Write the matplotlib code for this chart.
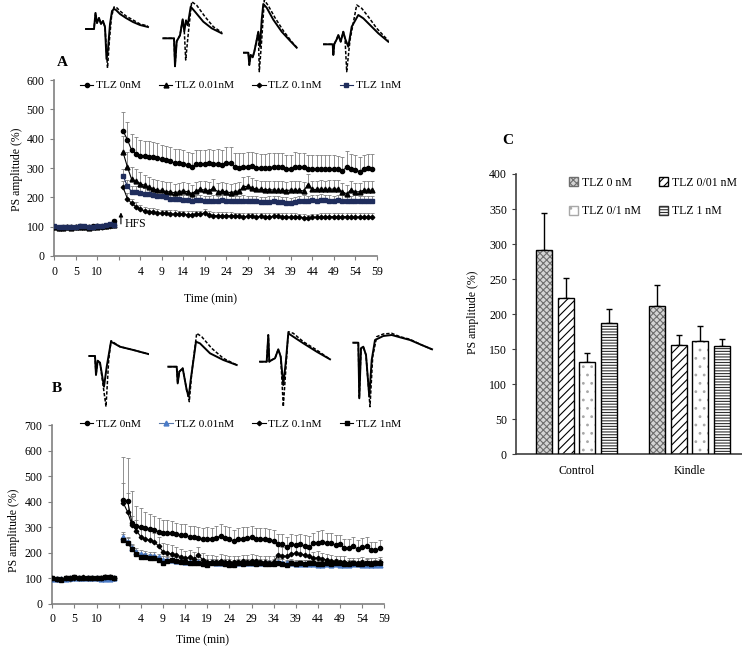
import numpy as np
import matplotlib
matplotlib.use('Agg')
import matplotlib.pyplot as plt
from matplotlib.patches import Patch

plt.rcParams['font.family'] = ['Liberation Serif', 'DejaVu Serif']
plt.rcParams['hatch.linewidth'] = 0.8

W, H = 742, 646

# ---------------- data ----------------
tick_labels = ['0', '5', '10', '', '4', '9', '14', '19', '24', '29', '34', '39', '44', '49', '54', '59']
names_ab = ['TLZ 0nM', 'TLZ 0.01nM', 'TLZ 0.1nM', 'TLZ 1nM']

# panel A, baseline (15 points before HFS)
a_base_0 = [100, 97, 98, 99, 98, 100, 101, 100, 99, 101, 102, 100, 103, 105, 120]
a_base_001 = [100, 96, 97, 98, 97, 99, 100, 98, 97, 99, 100, 101, 102, 104, 105]
a_base_01 = [100, 97, 97, 98, 98, 99, 99, 98, 98, 100, 101, 100, 101, 103, 104]
a_base_1 = [101, 98, 98, 99, 99, 100, 102, 101, 98, 100, 103, 101, 104, 108, 105]
a_base_err = [4, 3, 3, 4, 3, 4, 4, 3, 4, 4, 5, 4, 5, 5, 6]

# panel A, after HFS (59 points)
a_post_0 = [426, 397, 360, 349, 342, 340, 339, 338, 334, 329,
            326, 324, 317, 317, 315, 310, 304, 312, 315, 315,
            316, 315, 314, 310, 318, 318, 302, 300, 302, 305,
            306, 300, 300, 299, 301, 304, 305, 303, 298, 298,
            303, 302, 302, 297, 296, 297, 296, 297, 295, 296,
            295, 290, 303, 298, 293, 288, 296, 299, 297]
a_err_0 = [65, 60, 57, 55, 53, 52, 52, 51, 50, 50,
           48, 48, 47, 47, 46, 46, 46, 48, 48, 48,
           48, 48, 50, 50, 52, 52, 50, 50, 48, 48,
           50, 50, 48, 48, 50, 46, 46, 47, 47, 46,
           50, 48, 48, 47, 47, 47, 47, 48, 48, 47,
           47, 46, 56, 50, 52, 50, 48, 50, 50]
a_post_001 = [353, 304, 261, 255, 247, 241, 234, 230, 224, 224,
              219, 219, 215, 219, 222, 219, 213, 222, 227, 225,
              223, 231, 219, 221, 219, 216, 219, 222, 236, 238,
              232, 228, 227, 226, 226, 225, 224, 224, 223, 225,
              224, 224, 222, 243, 227, 227, 228, 227, 228, 228,
              228, 219, 212, 225, 219, 219, 224, 225, 224]
a_err_001 = [55, 50, 42, 40, 38, 36, 35, 34, 34, 33,
             32, 32, 31, 31, 30, 30, 30, 30, 30, 30,
             30, 30, 30, 30, 30, 30, 30, 30, 35, 35,
             33, 32, 30, 30, 30, 30, 30, 30, 30, 30,
             30, 30, 30, 38, 30, 30, 30, 30, 30, 30,
             30, 30, 30, 30, 30, 30, 30, 30, 30]
a_post_01 = [234, 196, 179, 168, 159, 153, 151, 149, 147, 145,
             145, 143, 143, 142, 142, 141, 141, 142, 143, 147,
             140, 138, 137, 137, 137, 137, 136, 135, 134, 135,
             135, 134, 135, 134, 134, 135, 136, 134, 133, 133,
             133, 132, 131, 128, 132, 132, 133, 133, 134, 134,
             134, 134, 134, 133, 133, 133, 133, 133, 133]
a_err_01 = [20, 18, 16, 15, 14, 14, 14, 13, 13, 13,
            13, 13, 13, 12, 12, 12, 13, 13, 12, 13,
            12, 12, 12, 12, 13, 12, 12, 13, 12, 12,
            12, 13, 12, 12, 13, 12, 12, 12, 12, 12,
            12, 12, 12, 13, 12, 12, 12, 12, 12, 12,
            12, 12, 12, 12, 12, 12, 12, 12, 12]
a_post_1 = [273, 238, 219, 219, 215, 211, 210, 207, 205, 204,
            202, 196, 194, 193, 190, 190, 188, 190, 190, 188,
            189, 188, 187, 190, 188, 186, 186, 187, 189, 188,
            188, 186, 184, 183, 185, 186, 184, 183, 182, 181,
            183, 186, 188, 188, 190, 189, 192, 190, 189, 188,
            190, 189, 187, 186, 189, 186, 188, 187, 187]
a_err_1 = [22, 22, 21, 20, 20, 20, 20, 20, 19, 19,
           19, 19, 19, 18, 18, 18, 18, 18, 18, 18,
           17, 19, 18, 18, 20, 18, 17, 19, 18, 18,
           18, 19, 18, 17, 18, 18, 19, 18, 18, 17,
           18, 18, 19, 18, 18, 18, 18, 19, 18, 18,
           18, 18, 18, 18, 18, 18, 18, 18, 18]

# panel B, baseline
b_base_0 = [98, 96, 95, 100, 98, 104, 100, 101, 102, 100, 101, 99, 104, 105, 102]
b_base_001 = [96, 97, 95, 98, 100, 101, 100, 99, 101, 100, 100, 98, 97, 96, 101]
b_base_01 = [100, 97, 96, 101, 99, 102, 100, 103, 101, 100, 102, 100, 103, 104, 100]
b_base_1 = [99, 98, 94, 102, 100, 103, 101, 100, 102, 101, 100, 100, 105, 106, 100]
b_base_err = [5, 4, 5, 6, 4, 5, 4, 5, 5, 4, 5, 4, 6, 6, 5]

# panel B, after HFS
b_post_0 = [406, 403, 317, 304, 299, 295, 291, 289, 282, 278,
            278, 275, 273, 269, 269, 262, 262, 256, 253, 253,
            253, 258, 265, 258, 255, 245, 252, 255, 256, 260,
            252, 252, 252, 250, 247, 232, 234, 223, 234, 230,
            232, 226, 223, 236, 239, 243, 236, 236, 230, 232,
            217, 217, 226, 213, 221, 226, 210, 210, 217]
b_err_0 = [170, 168, 125, 78, 74, 65, 62, 55, 52, 50,
           50, 48, 45, 45, 44, 44, 42, 45, 45, 46,
           44, 45, 48, 45, 44, 42, 44, 44, 45, 46,
           44, 44, 43, 42, 42, 40, 40, 40, 40, 40,
           40, 42, 42, 42, 44, 45, 42, 42, 40, 38,
           36, 36, 36, 38, 38, 36, 30, 30, 32]
b_post_001 = [262, 243, 217, 204, 195, 191, 187, 187, 181, 171,
              172, 170, 168, 166, 165, 165, 163, 162, 160, 160,
              162, 160, 158, 161, 160, 158, 160, 162, 160, 161,
              160, 161, 160, 158, 160, 164, 160, 158, 160, 157,
              155, 157, 155, 155, 152, 152, 154, 153, 154, 152,
              152, 150, 154, 154, 153, 152, 151, 153, 152]
b_err_001 = [20, 18, 17, 16, 16, 15, 15, 15, 15, 15,
             15, 15, 14, 14, 15, 15, 14, 14, 15, 15,
             15, 14, 14, 15, 15, 14, 15, 15, 14, 15,
             15, 15, 14, 14, 15, 15, 14, 14, 15, 15,
             15, 14, 14, 15, 15, 14, 15, 15, 14, 15,
             15, 15, 14, 14, 15, 15, 14, 14, 15]
b_post_01 = [396, 360, 308, 286, 262, 252, 249, 243, 226, 204,
             197, 195, 191, 184, 178, 181, 174, 191, 171, 164,
             165, 162, 168, 165, 163, 162, 164, 166, 165, 168,
             166, 163, 162, 161, 163, 190, 188, 185, 195, 198,
             194, 192, 186, 178, 180, 175, 172, 168, 166, 163,
             165, 160, 158, 160, 162, 158, 160, 160, 162]
b_err_01 = [78, 72, 35, 40, 40, 38, 35, 35, 35, 35,
            35, 33, 32, 30, 30, 28, 28, 30, 28, 26,
            25, 25, 26, 25, 25, 25, 24, 25, 25, 26,
            25, 25, 24, 24, 25, 35, 35, 34, 35, 33,
            32, 30, 28, 26, 25, 25, 24, 22, 22, 22,
            22, 20, 20, 20, 20, 20, 20, 20, 20]
b_post_1 = [249, 239, 213, 195, 181, 184, 178, 178, 171, 161,
            168, 171, 168, 164, 164, 161, 158, 161, 155, 151,
            160, 158, 160, 155, 152, 151, 158, 156, 160, 158,
            156, 158, 156, 154, 157, 160, 156, 152, 158, 155,
            159, 157, 160, 160, 157, 155, 158, 156, 160, 158,
            154, 157, 160, 155, 157, 160, 156, 158, 160]
b_err_1 = [25, 20, 18, 16, 15, 15, 15, 14, 14, 14,
           14, 14, 14, 13, 14, 14, 14, 13, 14, 14,
           14, 14, 13, 14, 14, 14, 13, 14, 14, 14,
           14, 14, 13, 14, 14, 14, 13, 14, 14, 14,
           14, 14, 13, 14, 14, 14, 13, 14, 14, 14,
           14, 14, 13, 14, 14, 14, 13, 14, 14]

# panel C
groups_c = ['Control', 'Kindle']
names_c = ['TLZ 0 nM', 'TLZ 0/01 nM', 'TLZ 0/1 nM', 'TLZ 1 nM']
c_means = [[292, 211], [223, 156], [132, 162], [187, 155]]
c_errs = [[53, 30], [29, 14], [13, 21], [21, 9]]

# field potential traces (time, amplitude) for the insets: (solid t, solid v, dashed t, dashed v)
tr_a1 = ([4, 12, 13.5, 15, 17, 19, 21, 23, 24.5, 26, 28, 30, 32, 34, 38, 44, 51, 58, 66],
         [0, 0, 16, 6, 11, 5, 8, 2, -30, -20, 5, 18, 20, 19, 15, 11, 7, 4, 2],
         [4, 12, 13.5, 15, 17, 19, 21, 23, 25.5, 27.5, 29.5, 32, 34, 38, 44, 51, 58, 66],
         [0, 0, 16, 6, 11, 5, 8, 2, -39, -10, 12, 22, 22, 18, 13, 9, 5, 3])
tr_a2 = ([1.3, 12, 13, 14.7, 18, 20.7, 22.3, 24, 25.7, 28.7, 33, 41.3, 49.7, 59.7],
         [0, 0, -28, -3, 3, 19, 7, 18, 13, 31.6, 26.6, 16.6, 10, 5],
         [1.3, 12, 13, 14.7, 18, 20.7, 22.3, 23.7, 26.3, 29.7, 34.7, 43, 51.3, 59.7],
         [0, 0, -28, -3, 3, 19, 7, -21.7, 5, 36.6, 33, 21.6, 11.6, 6])
tr_a3 = ([0.3, 5.3, 6.3, 7.7, 9.7, 11.3, 13.7, 15.3, 17, 18.7, 20.3, 23.7, 30.3, 38.7, 47, 53.7],
         [0, 0, -12.3, -2.3, -4.6, 1, 12.7, 21, 6, 32.7, 48.7, 45, 33, 21, 12, 5],
         [0.3, 5.3, 6.3, 7.7, 9.7, 11.3, 13.7, 15.3, 16.3, 18.7, 21.3, 25.3, 32, 40.3, 48.7, 53.7],
         [0, 0, -12.3, -2.3, -4.6, 1, 12.7, 21, -19, 12.7, 52.7, 47, 35, 22, 11, 5.4])
tr_a4 = ([0.3, 9.7, 10.3, 11.3, 13.7, 15.3, 17.7, 20.3, 22, 25.3, 28.7, 35.3, 40.3, 47, 55.3, 65.3],
         [0, 0, -10.7, 0.3, 5, 9.3, 2.6, 12.6, 6, -2.4, 17.6, 29.3, 26, 19.3, 11, 2.6],
         [0.3, 9.7, 10.3, 11.3, 13.7, 15.3, 17.7, 20.3, 22, 23.7, 27, 33.7, 38.7, 45.3, 53.7, 65.3],
         [0, 0, -10.7, 0.3, 5, 9.3, 2.6, 12.6, 6, -27.4, 4.3, 39.3, 36, 27.6, 16, 3.6])
tr_b1 = ([1.3, 7, 8, 9.7, 12, 16, 18.7, 23, 32, 45.3, 60.3],
         [0, 0, -19, -4.7, -6.7, -30.7, -10.7, 14.3, 9.3, 6, 2],
         [1.3, 7, 8, 9.7, 12, 18, 20.7, 23, 32, 45.3, 60.3],
         [0, 0, -19, -4.7, -6.7, -50.7, -4, 15.3, 9.3, 6, 2])
tr_b2 = ([1.3, 9.7, 10.7, 12.3, 15.7, 19.7, 21.7, 23.7, 29, 33, 43, 56.3, 69.7],
         [0, 0, -16.7, -5, -1.6, -23.3, -30, -13.3, 25, 23.3, 13.4, 6.7, 1.7],
         [1.3, 9.7, 10.7, 12.3, 15.7, 19.7, 22.3, 24.7, 29.7, 34.7, 44.7, 56.3, 69.7],
         [0, 0, -16.7, -5, -1.6, -23.3, -35, -6.6, 33.4, 30, 18.4, 8.4, 1.7])
tr_b3 = ([2, 8.7, 10.3, 11.3, 13.7, 17, 20.3, 22.7, 25.3, 28, 30.3, 35.3, 45.3, 58.7, 72],
         [0, 0, 26.7, 0, 1.7, 3.4, 12.4, 5, -23.3, 1.7, 28.4, 25, 18.4, 10, 2.4],
         [2, 8.7, 10.3, 11.3, 13.7, 17, 20.3, 22.7, 25.3, 28, 30.3, 35.3, 45.3, 58.7, 72],
         [0, 0, 26.7, 0, 1.7, 3.4, 12.4, 5, -45, -5, 30, 28.4, 20, 11.7, 2.4])
tr_b4 = ([3.3, 8.3, 9.3, 11, 13.3, 16, 19.3, 21.7, 25, 33.3, 41.7, 50, 60, 71.7, 82],
         [0, 0, -55.6, -5.6, -4, -12.3, -54, -17.3, 2.7, 6.7, 7.7, 5.4, 2.7, -2.3, -6.6],
         [3.3, 8.3, 9.3, 11, 13.3, 16, 20, 22.7, 26.7, 33.3, 41.7, 50, 60, 71.7, 82],
         [0, 0, -55.6, -5.6, -4, -12.3, -64, -14, 6, 8.7, 9.4, 6, 3.4, -2.3, -6.6])


def fbox(x0, y0, x1, y1):
    return [x0 / W, 1 - y1 / H, (x1 - x0) / W, (y1 - y0) / H]


fig = plt.figure(figsize=(W / 100, H / 100), dpi=100)

GRAY = '#808080'


def line_panel(ax, bases, posts, errs, base_err, styles, ymax, leg_anchor):
    xb = np.arange(len(bases[0]))
    xp = np.arange(len(posts[0])) + 16
    for base, post, err, (name, mk, ms, mc, lc) in zip(bases, posts, errs, styles):
        ax.errorbar(xb, base, yerr=[np.zeros(len(base)), base_err], fmt='none',
                    ecolor=GRAY, elinewidth=0.6, capsize=1.5, capthick=0.6, zorder=2)
        ax.errorbar(xp, post, yerr=[np.zeros(len(post)), err], fmt='none',
                    ecolor=GRAY, elinewidth=0.6, capsize=1.5, capthick=0.6, zorder=2)
        ax.plot(xb, base, color=lc, lw=0.8, marker=mk, ms=ms, mfc=mc, mec=mc, zorder=3)
        ax.plot(xp, post, color=lc, lw=0.8, marker=mk, ms=ms, mfc=mc, mec=mc, zorder=3,
                label=name)
    ax.set_xlim(0, 75)
    ax.set_ylim(0, ymax)
    ax.set_xticks(np.arange(0, 76, 5))
    ax.set_xticklabels(tick_labels)
    ax.set_yticks(np.arange(0, ymax + 1, 100))
    ax.tick_params(direction='out', length=3, labelsize=8.5, color=GRAY, pad=4)
    for s in ['top', 'right']:
        ax.spines[s].set_visible(False)
    for s in ['left', 'bottom']:
        ax.spines[s].set_color(GRAY)
        ax.spines[s].set_linewidth(1.2)
    ax.set_ylabel('PS amplitude (%)', fontsize=8.5)
    ax.set_xlabel('Time (min)', fontsize=8.5)
    ax.legend(loc='upper left', bbox_to_anchor=leg_anchor, ncol=4, frameon=False,
              fontsize=8.2, handlelength=1.2, handletextpad=0.2, columnspacing=1.6,
              borderpad=0.2, borderaxespad=0)


# ---- panel A ----
axA = fig.add_axes(fbox(54.3, 80, 376.7, 256))
styles_a = [(names_ab[0], 'o', 3, 'black', 'black'),
            (names_ab[1], '^', 3.5, 'black', 'black'),
            (names_ab[2], 'D', 2.3, 'black', 'black'),
            (names_ab[3], 's', 3, '#1f2d5c', '#1f2d5c')]
line_panel(axA, [a_base_0, a_base_001, a_base_01, a_base_1],
           [a_post_0, a_post_001, a_post_01, a_post_1],
           [a_err_0, a_err_001, a_err_01, a_err_1], a_base_err, styles_a, 600, (0.072, 1.01))
axA.annotate('', xy=(15.5, 158), xytext=(15.5, 100),
             arrowprops=dict(arrowstyle='-|>', color='black', lw=0.8, mutation_scale=6))
axA.text(16.4, 108, 'HFS', fontsize=8.5, va='center', ha='left')
axA.xaxis.set_label_coords(0.486, -0.21)
axA.yaxis.set_label_coords(-0.097, 0.49)

# ---- panel B ----
axB = fig.add_axes(fbox(52.3, 425, 384.3, 603.7))
styles_b = [(names_ab[0], 'o', 3, 'black', 'black'),
            (names_ab[1], '^', 3.5, '#4a7bc8', '#5a78a8'),
            (names_ab[2], 'D', 2.3, 'black', 'black'),
            (names_ab[3], 's', 3.5, 'black', 'black')]
line_panel(axB, [b_base_0, b_base_001, b_base_01, b_base_1],
           [b_post_0, b_post_001, b_post_01, b_post_1],
           [b_err_0, b_err_001, b_err_01, b_err_1], b_base_err, styles_b, 700, (0.076, 1.045))
axB.xaxis.set_label_coords(0.451, -0.17)
axB.yaxis.set_label_coords(-0.097, 0.41)

# ---- panel C ----
axC = fig.add_axes(fbox(516, 174, 742, 454.3))
bar_styles = [('#d4d4d4', '#6e6e6e', 'xxxxx'),
              ('white', 'black', '////'),
              ('white', '#a8a8a8', '..'),
              ('white', '#303030', '------')]
xg = np.arange(len(groups_c))
offs = [-0.285, -0.095, 0.095, 0.285]
bw = 0.142
handles = []
for i, (face, hc, hatch) in enumerate(bar_styles):
    xs = xg + offs[i] + 0.015
    axC.bar(xs, c_means[i], bw, color=face, edgecolor=hc, hatch=hatch, linewidth=0, zorder=2)
    axC.bar(xs, c_means[i], bw, fill=False, edgecolor='black', linewidth=1, zorder=3)
    axC.errorbar(xs, c_means[i], yerr=[np.zeros(2), c_errs[i]], fmt='none', ecolor='black',
                 elinewidth=1, capsize=2.5, capthick=1, zorder=1)
    handles.append(Patch(facecolor=face, edgecolor=hc, hatch=hatch, label=names_c[i]))
axC.set_xlim(-0.52, 1.48)
axC.set_ylim(0, 400)
axC.set_yticks(np.arange(0, 401, 50))
axC.set_xticks(xg + 0.015)
axC.set_xticklabels(groups_c)
axC.tick_params(axis='y', direction='out', length=3, labelsize=8.5, color='#404040')
axC.tick_params(axis='x', length=0, labelsize=8.5, pad=8)
for s in ['top', 'right']:
    axC.spines[s].set_visible(False)
for s in ['left', 'bottom']:
    axC.spines[s].set_color('#404040')
    axC.spines[s].set_linewidth(1.2)
axC.set_ylabel('PS amplitude (%)', fontsize=8.5)
axC.yaxis.set_label_coords(-0.165, 0.508)
order = [0, 2, 1, 3]
axC.legend([handles[i] for i in order], [names_c[i] for i in order], ncol=2, loc='upper left',
           bbox_to_anchor=(0.225, 0.998), frameon=False, fontsize=8.5, handlelength=0.75,
           handleheight=0.75, handletextpad=0.3, columnspacing=1.6, labelspacing=1.4,
           borderpad=0.2, borderaxespad=0)

# ---- insets with field potential traces ----
insets = [((82, 2, 150, 70), 29, tr_a1), ((162, 0, 223, 70), 38.3, tr_a2),
          ((243, 0, 298, 73), 52.7, tr_a3), ((323, 0, 389, 73), 44.3, tr_a4),
          ((88, 330, 149, 410), 356, tr_b1), ((167, 330, 238, 410), 366.7, tr_b2),
          ((258, 330, 332, 410), 361.7, tr_b3), ((350, 325, 435, 410), 342.7, tr_b4)]
for (x0, y0, x1, y1), yb, (ts, vs, td, vd) in insets:
    ai = fig.add_axes(fbox(x0, y0, x1, y1))
    ai.plot(td, vd, color='black', lw=1.1, ls=(0, (2.2, 1.2)))
    ai.plot(ts, vs, color='black', lw=1.4)
    ai.set_xlim(0, x1 - x0)
    ai.set_ylim(yb - y1, yb - y0)
    ai.axis('off')

# panel letters
fig.text(62 / W, 1 - 62 / H, 'A', fontsize=11, fontweight='bold', ha='center', va='center')
fig.text(57 / W, 1 - 389 / H, 'B', fontsize=11, fontweight='bold', ha='center', va='center')
fig.text(508 / W, 1 - 141 / H, 'C', fontsize=11, fontweight='bold', ha='center', va='center')

fig.savefig('out.png', dpi=100)
